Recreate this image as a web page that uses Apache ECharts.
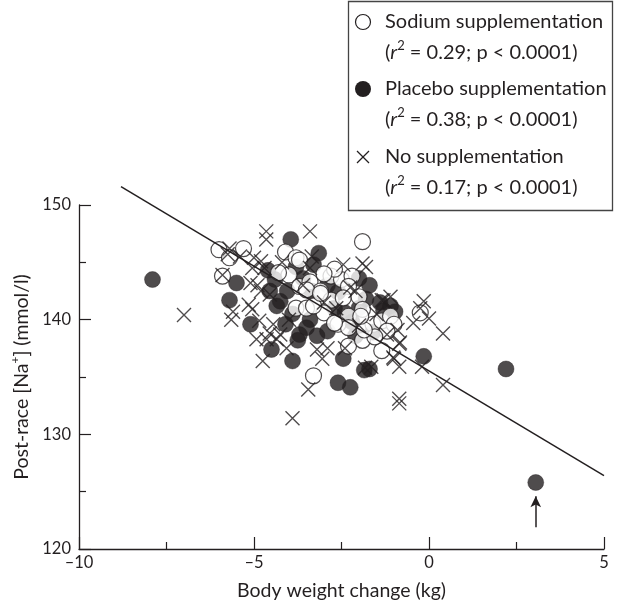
<!DOCTYPE html>
<html>
<head>
<meta charset="utf-8">
<script src="https://cdn.jsdelivr.net/npm/echarts@6/dist/echarts.min.js"></script>
<style>html,body{margin:0;padding:0;background:#fff}#c{width:617px;height:606px}</style>
</head>
<body>
<div id="c"></div>
<script>
// Sodium supplementation (open circles)
const sodiumX = [-6.0,-5.7,-5.3,-5.9,-4.1,-3.8,-4.0,-3.7,-3.4,-3.8,-3.5,-4.3,-1.9,-2.8,-2.5,-2.2,-2.3,-3.1,-2.8,-2.45,-2.0,-1.9,-2.3,-3.0,-3.3,-2.6,-2.3,-1.6,-1.35,-1.1,-1.0,-1.2,-0.25,-3.3,-2.3,-1.35,-1.9,-1.55,-1.85,-3.7,-2.7,-3.5,-3.1,-1.95,-2.7,-3.0];
const sodiumY = [146.1,145.4,146.2,143.8,145.9,145.4,143.9,142.9,143.3,141.0,141.0,144.1,146.8,143.8,143.5,143.8,142.9,142.5,141.7,141.9,142.0,140.9,140.3,140.6,141.2,139.6,139.3,139.6,139.9,140.3,139.6,139.0,140.6,135.1,137.7,137.3,138.2,138.5,139.1,145.2,139.7,142.6,142.3,140.3,144.4,144.0];
// Placebo supplementation (filled circles)
const placeboX = [-7.9,-3.95,-5.5,-5.7,-5.1,-3.7,-4.4,-4.55,-4.25,-4.05,-4.35,-3.15,-3.35,-1.7,-0.97,-2.45,-2.6,-2.25,-1.7,-1.85,-0.15,-4.5,-3.9,-3.75,2.2,3.05,-3.4,-3.2,-3.5,-1.6,-3.3,-2.9,-2.6,-2.0,-1.4,-2.9,-2.1,-1.3,-4.6,-2.7,-3.8,-3.6,-2.4,-1.8,-1.1,-2.0,-3.9,-4.1,-2.2];
const placeboY = [143.5,147.0,143.2,141.7,139.6,138.7,143.5,142.5,141.6,142.5,141.2,145.8,142.5,143.0,140.7,136.6,134.5,134.1,135.7,135.6,136.8,137.4,136.4,138.2,135.7,125.8,140.0,138.6,139.3,138.9,144.8,143.0,142.4,141.0,141.5,139.0,138.6,140.8,144.3,141.0,144.6,143.6,140.6,141.8,141.2,143.6,140.5,139.6,139.8];
// No supplementation (crosses)
const noneX = [-7.0,-4.65,-4.65,-3.4,-5.7,-5.4,-5.0,-4.8,-4.7,-5.1,-4.9,-4.8,-4.55,-5.15,-5.05,-5.6,-5.65,-4.85,-4.45,-4.25,-4.55,-5.9,-5.05,-3.35,-2.45,-1.9,-1.8,-2.25,-2.1,-1.35,-1.1,-0.15,-0.25,0.0,-0.45,0.4,-1.2,-0.9,-2.65,-3.4,-0.85,-0.85,0.4,-0.2,-0.85,-1.0,-0.85,-3.05,-3.2,-2.9,-3.45,-4.75,-3.9,-1.65,-2.4,-4.93,-4.64,-4.35,-4.07,-5.75,-3.0,-2.0,-1.5,-3.6,-4.2,-4.0,-0.83,-1.02,-1.83,-1.3];
const noneY = [140.4,147.7,147.0,147.7,146.2,145.5,145.4,145.1,144.5,143.2,143.0,142.5,142.2,141.3,140.9,140.7,140.0,139.9,139.6,138.7,138.8,143.9,144.5,145.5,144.8,144.9,144.6,142.8,142.5,141.7,142.0,141.6,141.0,140.1,139.7,138.8,138.7,139.1,141.0,144.5,133.1,132.7,134.3,135.9,135.9,136.6,137.9,136.6,137.4,137.5,133.9,136.4,131.4,135.9,137.5,138.3,138.3,138.3,137.5,145.7,141.5,139.5,140.5,143.0,145.0,140.0,138.0,136.7,135.8,141.7];
// Regression line and arrow
const fitX = [-8.8, 5];
const fitY = [151.6, 126.4];
const arrowX = [3.05, 3.05];
const arrowY = [121.9, 124.6];
const xTicks = [-10, -5, 0, 5];
const yTicks = [120, 130, 140, 150];

const zip = (a, b) => a.map((v, i) => [v, b[i]]);
const INK = '#231f20';
const FONT = 'Lato';
const LEG = 20;

const chart = echarts.init(document.getElementById('c'), null, {renderer: 'canvas'});
const supRich = {
  n: {fontFamily: FONT, fontSize: LEG, fill: INK},
  i: {fontFamily: FONT, fontSize: LEG, fontStyle: 'italic', fill: INK},
  s: {fontFamily: FONT, fontSize: 13, fill: INK, padding: [0, 0, 14, 0]}
};
chart.setOption({
  animation: false,
  backgroundColor: '#fff',
  grid: {left: 79, right: 13, top: 205, bottom: 56},
  xAxis: {
    type: 'value', min: xTicks[0], max: xTicks[xTicks.length - 1], interval: 5,
    name: 'Body weight change (kg)', nameLocation: 'middle', nameGap: 32,
    nameTextStyle: {fontFamily: FONT, fontSize: 19.5, color: INK},
    axisLine: {onZero: false, lineStyle: {color: INK, width: 1.3}},
    axisTick: {inside: true, length: 12, lineStyle: {color: INK, width: 1.2}},
    minorTick: {show: true, splitNumber: 2, length: 7, lineStyle: {color: INK, width: 1.2}},
    splitLine: {show: false},
    axisLabel: {fontFamily: FONT, fontSize: 16.5, color: INK, margin: 5,
      formatter: v => String(v).replace('-', '\u2013')}
  },
  yAxis: {
    type: 'value', min: yTicks[0], max: yTicks[yTicks.length - 1], interval: 10,
    name: 'Post-race [Na{s|+}] (mmol/l)', nameLocation: 'middle', nameGap: 45,
    nameTextStyle: {fontFamily: FONT, fontSize: 19.5, color: INK,
      rich: {s: {fontFamily: FONT, fontSize: 12, color: INK, padding: [0, 0, 12, 0]}}},
    axisLine: {onZero: false, lineStyle: {color: INK, width: 1.3}},
    axisTick: {inside: true, length: 12, lineStyle: {color: INK, width: 1.2}},
    minorTick: {show: true, splitNumber: 2, length: 7, lineStyle: {color: INK, width: 1.2}},
    splitLine: {show: false},
    axisLabel: {fontFamily: FONT, fontSize: 16.5, color: INK, margin: 8}
  },
  series: [
    {
      name: 'Placebo supplementation', type: 'scatter', data: zip(placeboX, placeboY),
      symbol: 'circle', symbolSize: 16, z: 2,
      itemStyle: {color: INK, borderColor: INK, borderWidth: 0.5}
    },
    {
      name: 'Sodium supplementation', type: 'scatter', data: zip(sodiumX, sodiumY),
      symbol: 'circle', symbolSize: 16, z: 3,
      itemStyle: {color: '#fff', borderColor: INK, borderWidth: 1.2}
    },
    {
      name: 'No supplementation', type: 'scatter', data: zip(noneX, noneY),
      symbol: 'path://M0,0L10,10M10,0L0,10', symbolSize: 14, z: 4,
      itemStyle: {color: 'rgba(0,0,0,0)', borderColor: INK, borderWidth: 1.4}
    },
    {
      name: 'fit', type: 'line', data: zip(fitX, fitY), symbol: 'none', clip: false, z: 5,
      lineStyle: {color: INK, width: 1.5},
      markLine: {
        silent: true, symbol: ['none', 'arrow'], symbolSize: [8, 11],
        lineStyle: {color: INK, width: 1.5, type: 'solid'},
        label: {show: false},
        data: [[{coord: [arrowX[0], arrowY[0]]}, {coord: [arrowX[1], arrowY[1]]}]]
      }
    }
  ],
  graphic: [
    {type: 'rect', shape: {x: 348.5, y: 1.5, width: 264, height: 209},
     style: {fill: '#fff', stroke: '#444', lineWidth: 1.3}, z: 10},
    {type: 'circle', shape: {cx: 363, cy: 22, r: 7.5}, style: {fill: '#fff', stroke: INK, lineWidth: 1.2}, z: 11},
    {type: 'circle', shape: {cx: 363, cy: 89, r: 8}, style: {fill: INK}, z: 11},
    {type: 'line', shape: {x1: 357, y1: 151, x2: 369, y2: 163}, style: {stroke: INK, lineWidth: 1.3}, z: 11},
    {type: 'line', shape: {x1: 369, y1: 151, x2: 357, y2: 163}, style: {stroke: INK, lineWidth: 1.3}, z: 11},
    {type: 'text', x: 385, y: 22, z: 11, style: {text: 'Sodium supplementation', font: LEG + 'px ' + FONT, fill: INK, verticalAlign: 'middle'}},
    {type: 'text', x: 385, y: 53, z: 11, style: {text: '{n|(}{i|r}{s|2}{n| = 0.29; p < 0.0001)}', verticalAlign: 'middle', rich: supRich}},
    {type: 'text', x: 385, y: 89, z: 11, style: {text: 'Placebo supplementation', font: LEG + 'px ' + FONT, fill: INK, verticalAlign: 'middle'}},
    {type: 'text', x: 385, y: 120, z: 11, style: {text: '{n|(}{i|r}{s|2}{n| = 0.38; p < 0.0001)}', verticalAlign: 'middle', rich: supRich}},
    {type: 'text', x: 385, y: 157, z: 11, style: {text: 'No supplementation', font: LEG + 'px ' + FONT, fill: INK, verticalAlign: 'middle'}},
    {type: 'text', x: 385, y: 188, z: 11, style: {text: '{n|(}{i|r}{s|2}{n| = 0.17; p < 0.0001)}', verticalAlign: 'middle', rich: supRich}}
  ]
});
</script>
</body>
</html>
